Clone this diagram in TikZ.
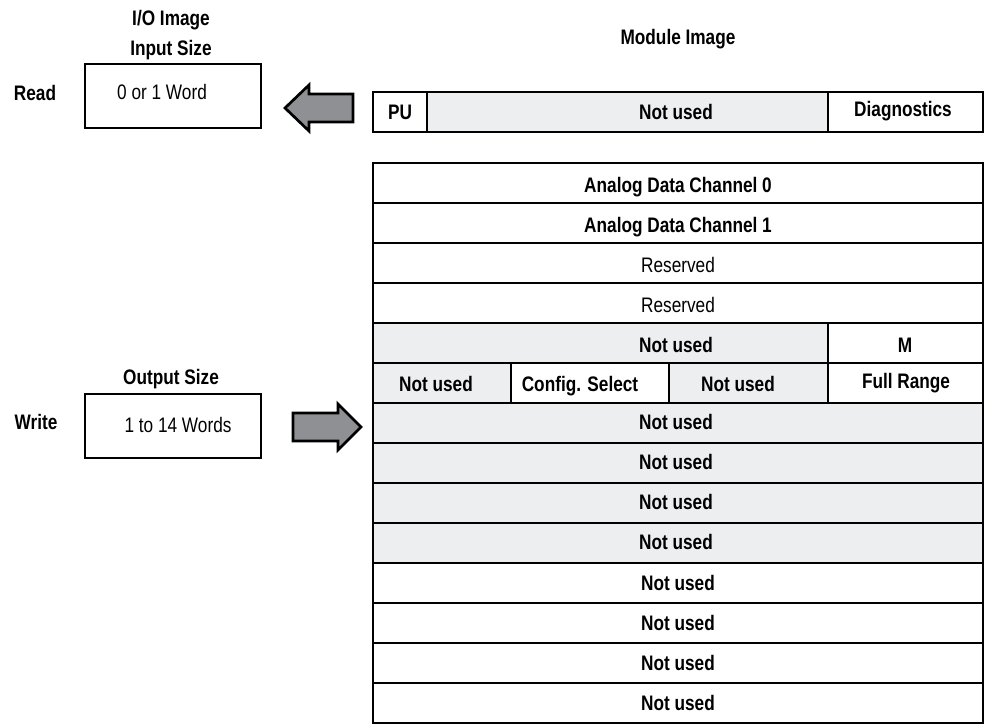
\documentclass[tikz,border=0pt]{standalone}
\usepackage{fontspec}
\setmainfont{Liberation Sans}[FakeStretch=0.82]
\definecolor{cellgray}{HTML}{EDEEF0}
\definecolor{arrowgray}{HTML}{8E9093}
\begin{document}
\begin{tikzpicture}[x=1pt,y=-1pt,line join=miter,
  cell/.style={draw=black,line width=2.5pt},
  grayc/.style={cell,fill=cellgray},
  whitec/.style={cell,fill=white},
  sizebox/.style={draw=black,line width=2.7pt,fill=white},
  lbl/.style={font=\fontsize{21}{24}\selectfont\bfseries,anchor=base,inner sep=0pt},
  rlbl/.style={font=\fontsize{21}{24}\selectfont,anchor=base,inner sep=0pt},
  bigarrow/.style={draw=black,line width=2.7pt,fill=arrowgray,line join=miter}]
\useasboundingbox (0,0) rectangle (987,725);

% left side headings and boxes
\node[lbl] (ioimg) at (171,26) {I/O Image};
\node[lbl] (insize) at (171,56) {Input Size};
\node[lbl] (read) at (35,100) {Read};
\draw[sizebox] (85,64) rectangle (261,128);
\node[rlbl] (readtxt) at (162,99) {0 or 1 Word};

\node[lbl] (outsize) at (171,384) {Output Size};
\node[lbl] (write) at (36,429) {Write};
\draw[sizebox] (85,394) rectangle (261,458);
\node[rlbl] (writetxt) at (178,432) {1 to 14 Words};

% block arrows
\draw[bigarrow] (285,108) -- (309,85) -- (309,94) -- (353,94) -- (353,122) -- (309,122) -- (309,131) -- cycle;
\draw[bigarrow] (361,427) -- (338,404) -- (338,413) -- (293,413) -- (293,441) -- (338,441) -- (338,450) -- cycle;

% module image title
\node[lbl] (modimg) at (678,45) {Module Image};

% input word
\draw[whitec] (373,92) rectangle (427,132);
\draw[grayc] (427,92) rectangle (828,132);
\draw[whitec] (828,92) rectangle (983,132);
\node[lbl] (pu) at (400,119) {PU};
\node[lbl] (inNU) at (676,119) {Not used};
\node[lbl] (diag) at (903,116) {Diagnostics};

% output words
\foreach \k in {0,1,2,3,10,11,12,13}{
  \draw[whitec] (373,{163+40*\k}) rectangle (983,{203+40*\k});
}
\foreach \k in {6,7,8,9}{
  \draw[grayc] (373,{163+40*\k}) rectangle (983,{203+40*\k});
}
% row 4
\draw[grayc] (373,323) rectangle (828,363);
\draw[whitec] (828,323) rectangle (983,363);
% row 5
\draw[grayc] (373,363) rectangle (511,403);
\draw[whitec] (511,363) rectangle (669,403);
\draw[grayc] (669,363) rectangle (828,403);
\draw[whitec] (828,363) rectangle (983,403);

\node[lbl] (ch0) at (678,192) {Analog Data Channel 0};
\node[lbl] (ch1) at (678,232) {Analog Data Channel 1};
\node[rlbl] (res0) at (678,272) {Reserved};
\node[rlbl] (res1) at (678,312) {Reserved};
\node[lbl] (r4nu) at (676,352) {Not used};
\node[lbl] (r4m) at (905,352) {M};
\node[lbl] (r5nua) at (436,391) {Not used};
\node[lbl] (r5cfg) at (580,391) {Config. Select};
\node[lbl] (r5nub) at (738,391) {Not used};
\node[lbl] (r5fr) at (906,388) {Full Range};
\node[lbl] (r6) at (676,429) {Not used};
\node[lbl] (r7) at (676,469) {Not used};
\node[lbl] (r8) at (676,509) {Not used};
\node[lbl] (r9) at (676,549) {Not used};
\node[lbl] (r10) at (678,590) {Not used};
\node[lbl] (r11) at (678,630) {Not used};
\node[lbl] (r12) at (678,670) {Not used};
\node[lbl] (r13) at (678,710) {Not used};
\end{tikzpicture}
\end{document}
